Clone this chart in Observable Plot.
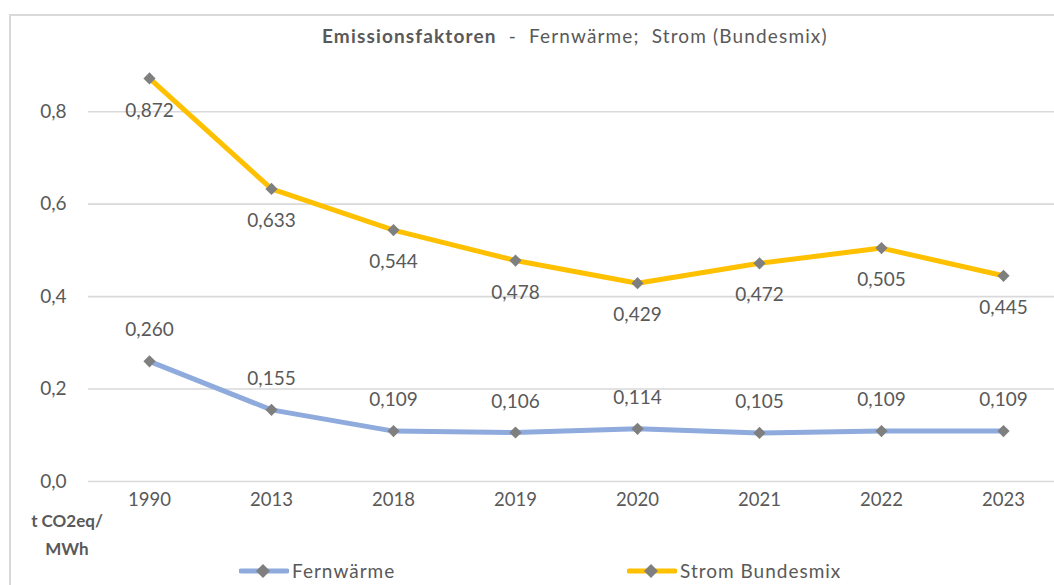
<!DOCTYPE html>
<html>
<head>
<meta charset="utf-8">
<script src="https://cdn.jsdelivr.net/npm/d3@7"></script>
<script src="https://cdn.jsdelivr.net/npm/@observablehq/plot@0.6"></script>
<style>
  html, body { margin: 0; padding: 0; background: #fff; }
  body { width: 1054px; height: 585px; position: relative; overflow: hidden; font-family: Lato, "Open Sans", sans-serif; color: #595959; }
  #frame { position: absolute; left: 9px; top: 14px; width: 1100px; height: 700px; border-top: 2px solid #d9d9d9; border-left: 2px solid #d9d9d9; }
  #chart { position: absolute; left: 0; top: 0; }
  #title { position: absolute; top: 24px; left: 322px; font-size: 19px; letter-spacing: 1.15px; white-space: pre; color: #595959; }
  #title b { font-weight: 700; }
  #unit { position: absolute; left: 17px; top: 507px; width: 100px; text-align: center; font-weight: 700; font-size: 17px; line-height: 28px; color: #595959; }
  .leg { position: absolute; top: 559px; display: flex; align-items: center; font-size: 19px; letter-spacing: 1px; color: #595959; white-space: nowrap; }
  .leg svg { display: block; margin-right: 3px; }
</style>
</head>
<body>
<div id="frame"></div>
<div id="chart"></div>
<div id="title"><b>Emissionsfaktoren</b>  -  Fernwärme;  Strom (Bundesmix)</div>
<div id="unit">t CO2eq/<br>MWh</div>
<div class="leg" style="left:239px" id="leg1"></div>
<div class="leg" style="left:627px" id="leg2"></div>
<script>
const years = ["1990", "2013", "2018", "2019", "2020", "2021", "2022", "2023"];
const fernwaerme = [0.260, 0.155, 0.109, 0.106, 0.114, 0.105, 0.109, 0.109];
const strom = [0.872, 0.633, 0.544, 0.478, 0.429, 0.472, 0.505, 0.445];
const yTicks = [0, 0.2, 0.4, 0.6, 0.8];
const seriesNames = ["Fernwärme", "Strom Bundesmix"];
const colors = ["#8faadc", "#ffc000"];

const fmt3 = v => v.toFixed(3).replace(".", ",");
const fmt1 = v => v.toFixed(1).replace(".", ",");

const fw = years.map((y, i) => ({year: y, value: fernwaerme[i]}));
const st = years.map((y, i) => ({year: y, value: strom[i]}));

const plot = Plot.plot({
  width: 1054,
  height: 585,
  marginTop: 65,
  marginBottom: 104,
  marginLeft: 88,
  marginRight: 0,
  style: {fontFamily: "Lato, 'Open Sans', sans-serif", color: "#595959", background: "transparent", overflow: "visible"},
  x: {type: "point", domain: years, range: [148, 1004], padding: 0},
  y: {domain: [0, 0.9]},
  marks: [
    Plot.gridY(yTicks, {stroke: "#d9d9d9", strokeOpacity: 1, strokeWidth: 1.6}),
    Plot.axisY({ticks: yTicks, tickFormat: fmt1, tickSize: 0, tickPadding: 22, fontSize: 19, fill: "#595959", label: null}),
    Plot.axisX({tickSize: 0, tickPadding: 11, fontSize: 18.5, fill: "#595959", label: null}),
    Plot.line(fw, {x: "year", y: "value", stroke: colors[0], strokeWidth: 5}),
    Plot.line(st, {x: "year", y: "value", stroke: colors[1], strokeWidth: 5}),
    Plot.dot(fw, {x: "year", y: "value", symbol: "diamond2", r: 5.5, fill: "#7f7f7f", stroke: "none"}),
    Plot.dot(st, {x: "year", y: "value", symbol: "diamond2", r: 5.5, fill: "#7f7f7f", stroke: "none"}),
    Plot.text(fw, {x: "year", y: "value", text: d => fmt3(d.value), dy: -31, fontSize: 19, fill: "#595959"}),
    Plot.text(st, {x: "year", y: "value", text: d => fmt3(d.value), dy: 32, fontSize: 19, fill: "#595959"})
  ]
});
document.getElementById("chart").appendChild(plot);

function legendSwatch(color) {
  const ns = "http://www.w3.org/2000/svg";
  const s = document.createElementNS(ns, "svg");
  s.setAttribute("width", 50); s.setAttribute("height", 16);
  const l = document.createElementNS(ns, "line");
  l.setAttribute("x1", 2); l.setAttribute("x2", 48); l.setAttribute("y1", 8); l.setAttribute("y2", 8);
  l.setAttribute("stroke", color); l.setAttribute("stroke-width", 5); l.setAttribute("stroke-linecap", "round");
  const p = document.createElementNS(ns, "path");
  p.setAttribute("d", "M24,1L31,8L24,15L17,8Z"); p.setAttribute("fill", "#7f7f7f");
  s.appendChild(l); s.appendChild(p);
  return s;
}
["leg1", "leg2"].forEach((id, i) => {
  const el = document.getElementById(id);
  el.appendChild(legendSwatch(colors[i]));
  const t = document.createElement("span"); t.textContent = seriesNames[i];
  el.appendChild(t);
});
</script>
</body>
</html>
